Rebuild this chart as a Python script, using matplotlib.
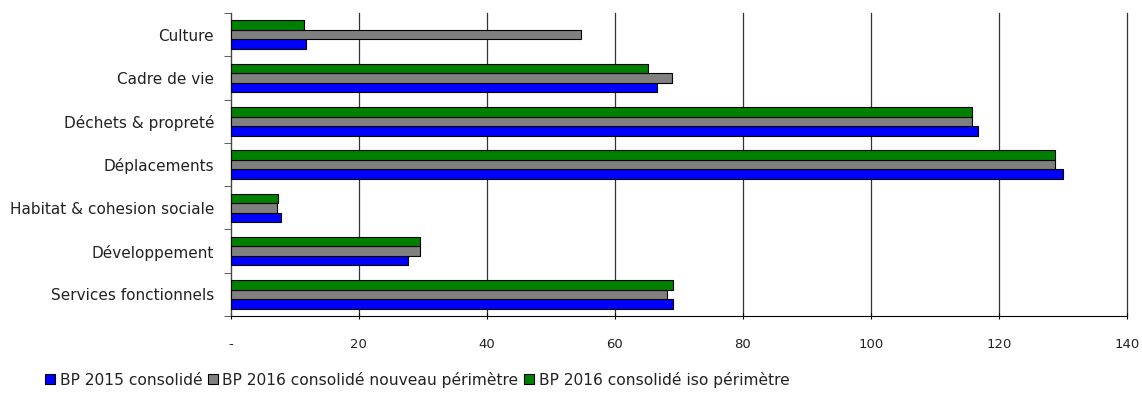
import numpy as np
import matplotlib
matplotlib.use('Agg')
import matplotlib.pyplot as plt
from matplotlib.patches import Patch

# data
categories = ['Culture', 'Cadre de vie', 'Déchets & propreté', 'Déplacements',
              'Habitat & cohesion sociale', 'Développement', 'Services fonctionnels']
bp2015 = [11.7, 66.5, 116.7, 130.0, 7.9, 27.7, 69.1]
bp2016_nouveau = [54.7, 68.9, 115.8, 128.8, 7.3, 29.5, 68.2]
bp2016_iso = [11.5, 65.1, 115.8, 128.8, 7.4, 29.5, 69.1]
series_names = ['BP 2015 consolidé', 'BP 2016 consolidé nouveau périmètre',
                'BP 2016 consolidé iso périmètre']
xticks = [0, 20, 40, 60, 80, 100, 120, 140]
xticklabels = ['-', '20', '40', '60', '80', '100', '120', '140']

plt.rcParams['font.family'] = ['DejaVu Sans']
plt.rcParams['text.color'] = '#222222'
colors = ['#0000FF', '#808080', '#008000']

fig = plt.figure(figsize=(11.42, 3.97), dpi=100, facecolor='white')
ax = fig.add_axes([0.202, 0.204, 0.785, 0.763])

y = np.arange(len(categories))
h = 0.22
offsets = [h, 0.0, -h]  # blue bottom, gray middle, green top (axis inverted)
for vals, off, col in zip([bp2015, bp2016_nouveau, bp2016_iso], offsets, colors):
    ax.barh(y + off, vals, height=h, color=col, edgecolor='black', linewidth=0.8, zorder=3)

ax.set_xlim(0, 140)
ax.set_ylim(len(categories) - 0.5, -0.5)
ax.set_xticks(xticks)
ax.set_xticklabels(xticklabels, fontsize=9.5, color='#222222')
ax.set_yticks(y)
ax.set_yticklabels(categories, fontsize=11, color='#222222')
ax.set_yticks(np.arange(-0.5, len(categories)), minor=True)
ax.tick_params(axis='y', which='major', length=0, pad=12)
ax.tick_params(axis='y', which='minor', length=5, direction='out', color='#444444')
ax.tick_params(axis='x', length=5, direction='inout', pad=13, color='black')
ax.grid(axis='x', color='#333333', linewidth=0.9, zorder=0)
for line in ax.get_xgridlines():
    line.set_clip_on(False)

for s in ['top', 'right']:
    ax.spines[s].set_visible(False)
ax.spines['left'].set_color('#444444')
ax.spines['bottom'].set_color('black')

handles = [Patch(facecolor=c, edgecolor='black', linewidth=0.8) for c in colors]
fig.legend(handles, series_names, loc='lower left', bbox_to_anchor=(0.027, -0.012),
           ncol=3, frameon=False, fontsize=11.2, handlelength=0.65, handleheight=0.65,
           handletextpad=0.3, columnspacing=0.35)

fig.savefig('out.png', dpi=100)
